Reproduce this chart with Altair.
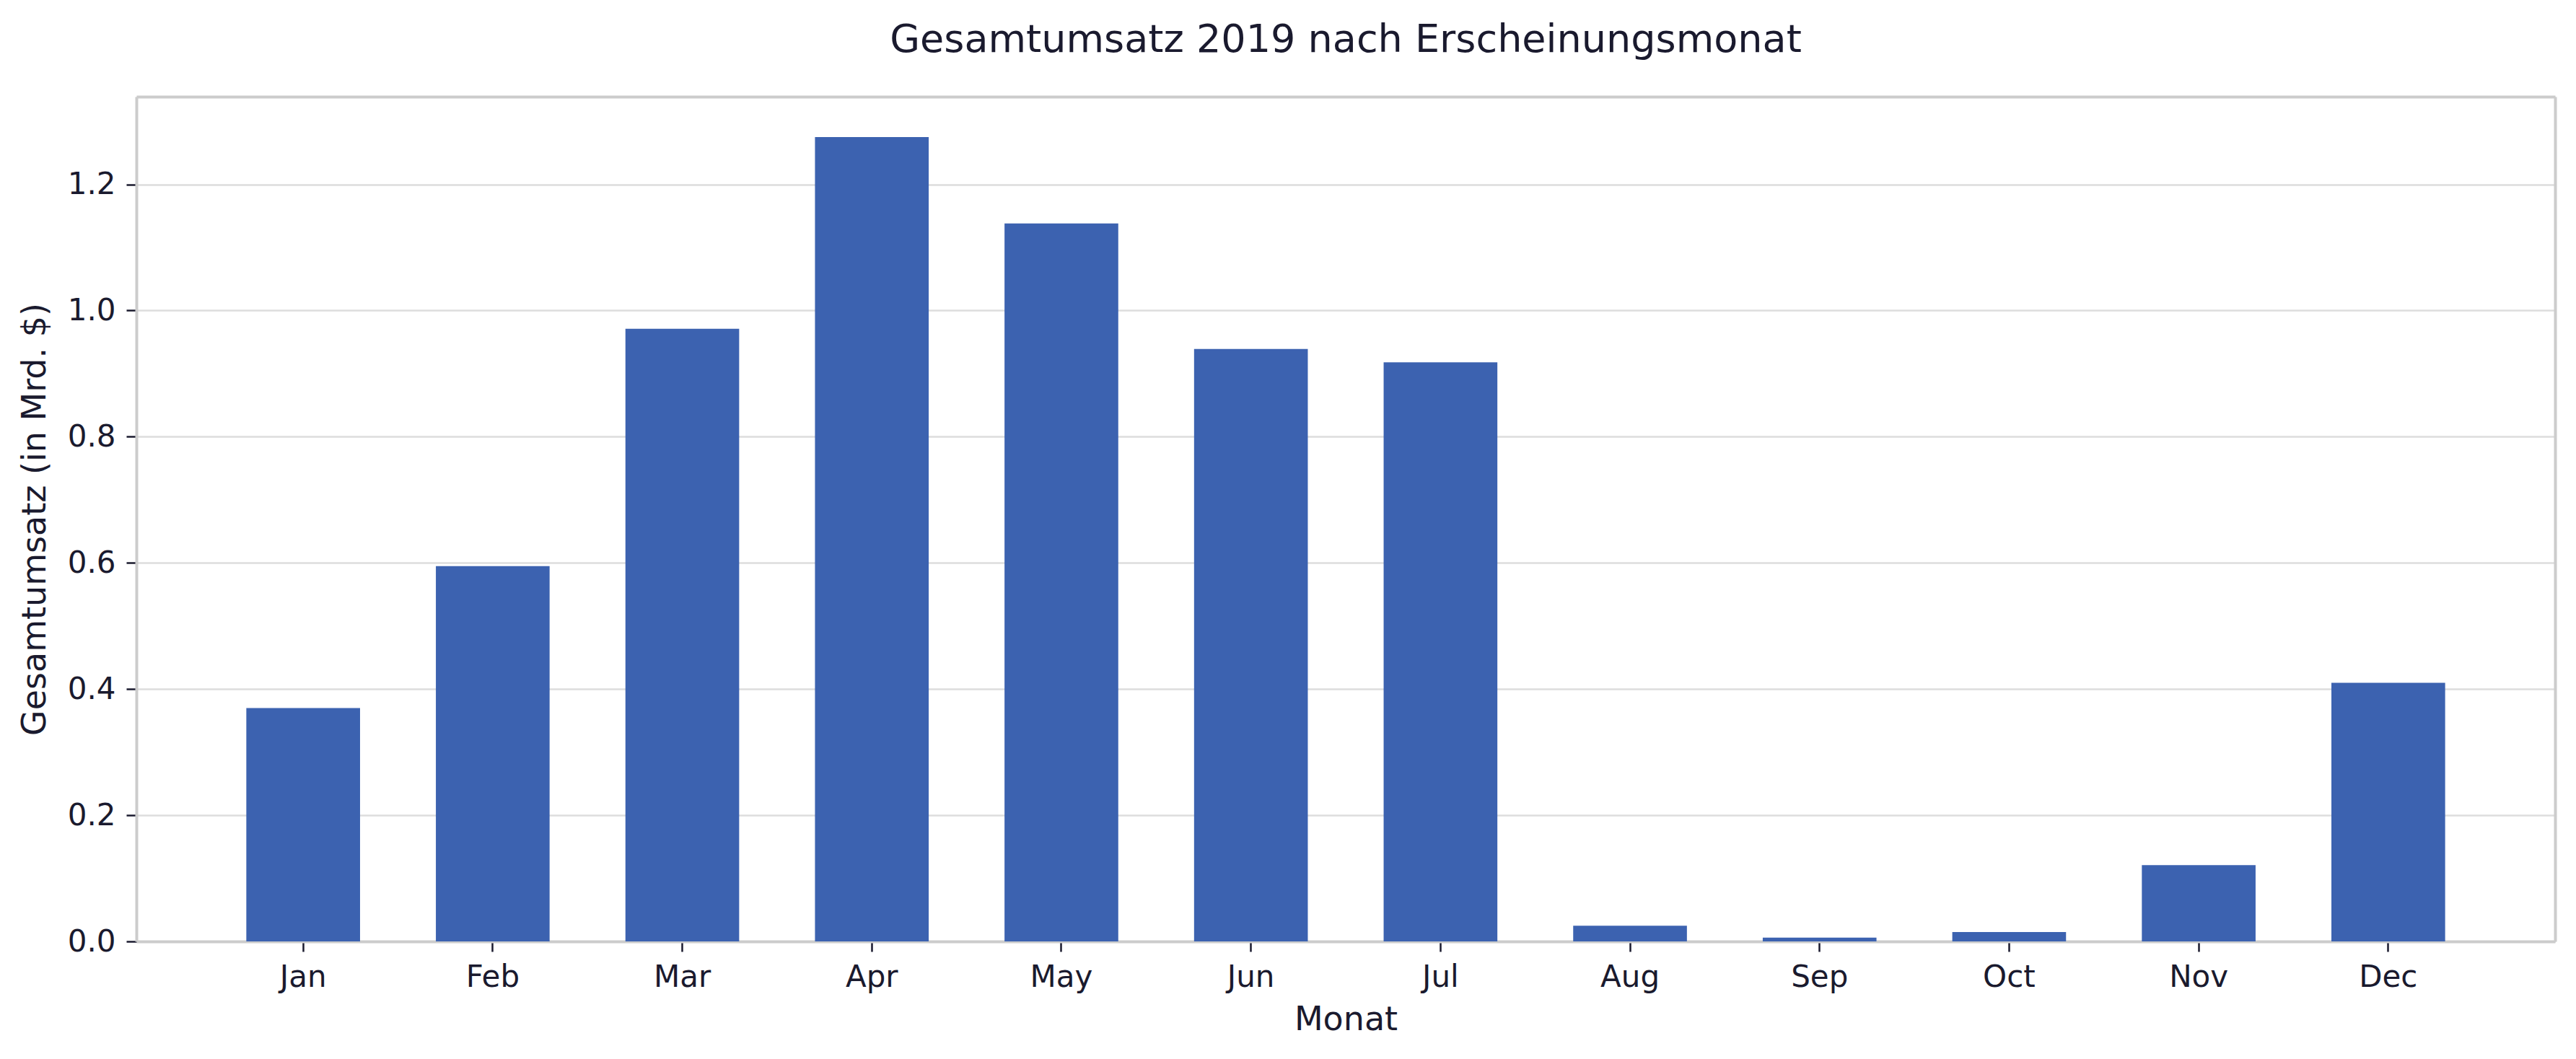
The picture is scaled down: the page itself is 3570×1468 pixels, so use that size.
import altair as alt
import pandas as pd

# ---- data ----
months = ["Jan", "Feb", "Mar", "Apr", "May", "Jun", "Jul", "Aug", "Sep", "Oct", "Nov", "Dec"]
revenue = [0.370, 0.595, 0.971, 1.275, 1.138, 0.939, 0.918, 0.025, 0.006, 0.015, 0.121, 0.410]
y_ticks = [0.0, 0.2, 0.4, 0.6, 0.8, 1.0, 1.2]

title_text = "Gesamtumsatz 2019 nach Erscheinungsmonat"
x_title = "Monat"
y_title = "Gesamtumsatz (in Mrd. $)"

df = pd.DataFrame({"Monat": months, "Umsatz": revenue})

TEXT = "#1a1a2e"
FONT = "DejaVu Sans"
BAR = "#3c62b0"
FRAME = "#cccccc"
W, H = 3352, 1171

x_scale = alt.Scale(paddingInner=0.4, paddingOuter=0.58)
y_scale = alt.Scale(domain=[0, 1.339], nice=False, zero=True)

bars = alt.Chart(df).mark_bar(color=BAR).encode(
    x=alt.X(
        "Monat:N",
        sort=months,
        scale=x_scale,
        axis=alt.Axis(
            title=x_title,
            labelAngle=0,
            labelFont=FONT,
            labelFontSize=42,
            labelColor=TEXT,
            labelPadding=15,
            tickSize=14,
            tickWidth=2.5,
            tickColor=TEXT,
            domain=True,
            domainColor=FRAME,
            domainWidth=4,
            grid=False,
            titleFont=FONT,
            titleFontSize=46,
            titleFontWeight="normal",
            titleColor=TEXT,
            titleX=W / 2,
            titleY=122,
            titleBaseline="alphabetic",
            titleAlign="center",
        ),
    ),
    y=alt.Y(
        "Umsatz:Q",
        scale=y_scale,
        axis=alt.Axis(
            title=y_title,
            values=y_ticks,
            format=".1f",
            labelFont=FONT,
            labelFontSize=42,
            labelColor=TEXT,
            labelPadding=15,
            tickSize=14,
            tickWidth=2.5,
            tickColor=TEXT,
            domain=True,
            domainColor=FRAME,
            domainWidth=4,
            grid=True,
            gridColor="#dddddd",
            gridWidth=2.5,
            titleFont=FONT,
            titleFontSize=46,
            titleFontWeight="normal",
            titleColor=TEXT,
            titleAngle=270,
            titleX=-127,
            titleY=H / 2,
            titleBaseline="alphabetic",
            titleAlign="center",
        ),
    ),
)

# invisible layer that only contributes the top and right frame lines
frame = alt.Chart(df).mark_bar(opacity=0).encode(
    x=alt.X(
        "Monat:N",
        sort=months,
        scale=x_scale,
        axis=alt.Axis(orient="top", title=None, labels=False, ticks=False, grid=False,
                      domain=True, domainColor=FRAME, domainWidth=4),
    ),
    y=alt.Y(
        "Umsatz:Q",
        scale=y_scale,
        axis=alt.Axis(orient="right", title=None, labels=False, ticks=False, grid=False,
                      domain=True, domainColor=FRAME, domainWidth=4),
    ),
)

chart = alt.layer(bars, frame).resolve_axis(
    x="independent", y="independent"
).properties(
    width=W,
    height=H,
    title=alt.TitleParams(
        text=title_text,
        font=FONT,
        fontSize=54,
        fontWeight="normal",
        color=TEXT,
        anchor="middle",
        frame="group",
        offset=51,
    ),
    padding={"left": 189, "top": 134, "right": 29, "bottom": 163},
    autosize=alt.AutoSizeParams(type="none"),
).configure_view(
    stroke=FRAME,
    strokeWidth=4,
).configure(background="white")

chart.save("out.html", embed_options={"renderer": "svg", "actions": False})
